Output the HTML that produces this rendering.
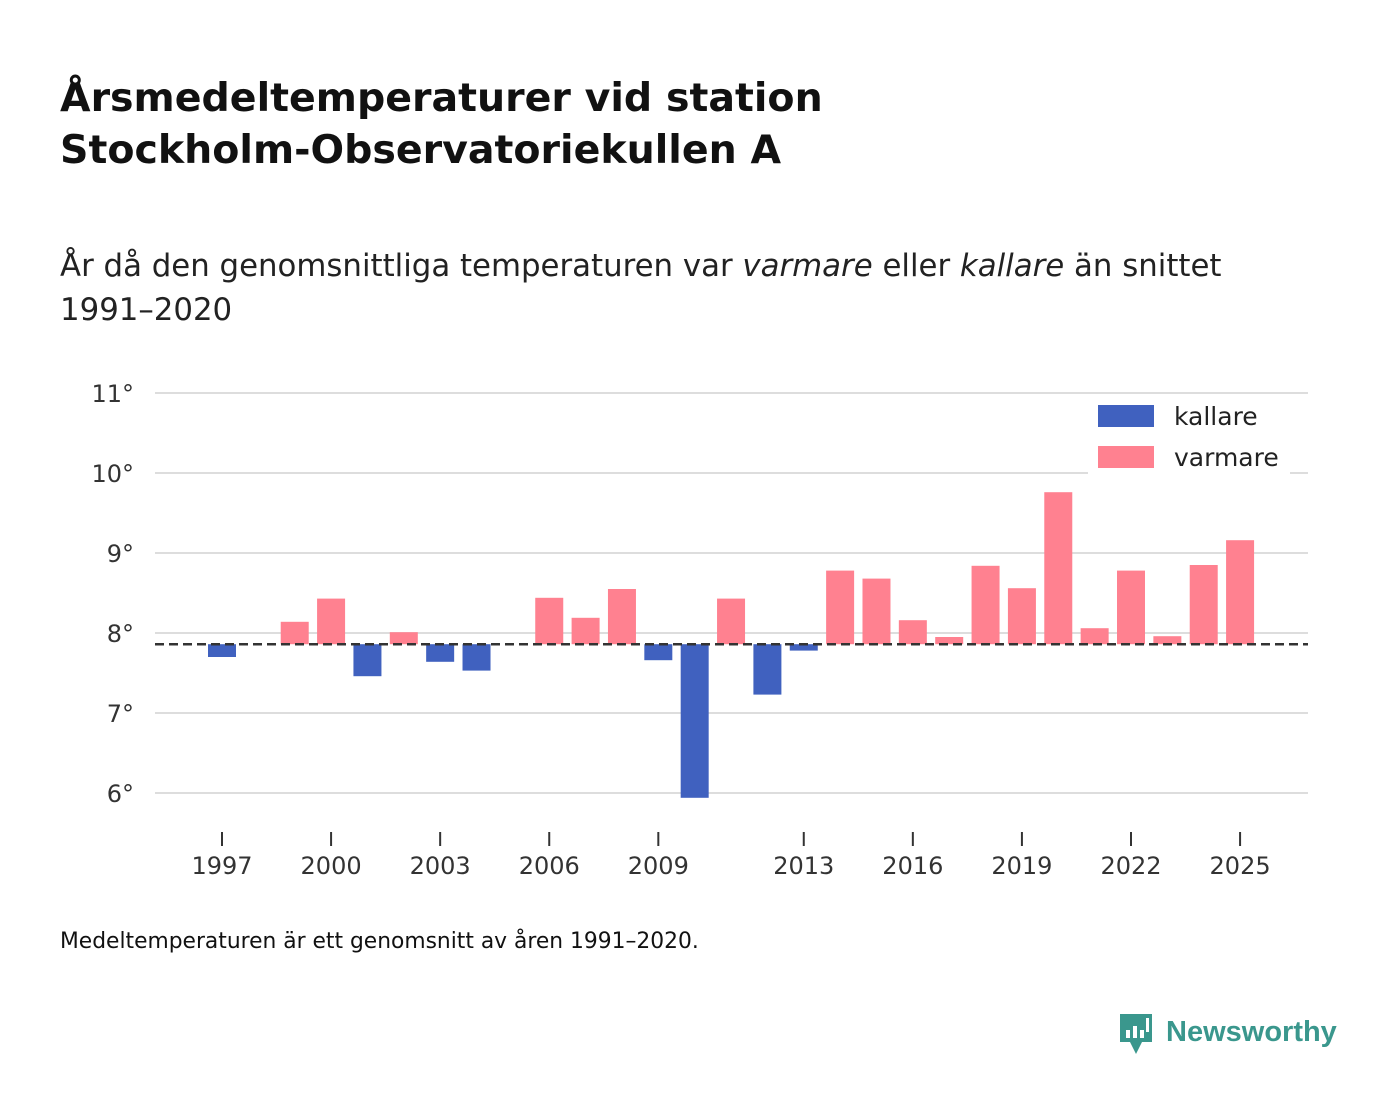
<!DOCTYPE html>
<html><head><meta charset="utf-8">
<style>
body{margin:0;background:#fff;font-family:"DejaVu Sans","Liberation Sans",sans-serif;}
#wrap{position:relative;width:1400px;height:1116px;overflow:hidden;}
h1{position:absolute;left:60px;top:72px;margin:0;font-size:39.5px;line-height:52px;font-weight:bold;color:#111;}
.sub{position:absolute;left:60px;top:244px;font-size:30.8px;line-height:44px;color:#222;}
.foot{position:absolute;left:60px;top:929px;font-size:21.8px;color:#111;}
svg{position:absolute;left:0;top:0;}
</style></head><body>
<div id="wrap">
<h1>Årsmedeltemperaturer vid station<br>Stockholm-Observatoriekullen A</h1>
<div class="sub">År då den genomsnittliga temperaturen var <i>varmare</i> eller <i>kallare</i> än snittet<br>1991–2020</div>
<svg id="chart" width="1400" height="1116"></svg>
<div class="foot">Medeltemperaturen är ett genomsnitt av åren 1991–2020.</div>
</div>
<script>
const years=[1997,1999,2000,2001,2002,2003,2004,2006,2007,2008,2009,2010,2011,2012,2013,2014,2015,2016,2017,2018,2019,2020,2021,2022,2023,2024,2025];
const temps=[7.70,8.14,8.43,7.46,8.01,7.64,7.53,8.44,8.19,8.55,7.66,5.94,8.43,7.23,7.78,8.78,8.68,8.16,7.95,8.84,8.56,9.76,8.06,8.78,7.96,8.85,9.16];
const baseline=7.86;
const yTicks=[6,7,8,9,10,11];
const xTicks=[1997,2000,2003,2006,2009,2013,2016,2019,2022,2025];
const NS='http://www.w3.org/2000/svg';
const svg=document.getElementById('chart');
const X=y=>222+(y-1997)*36.36;
const Y=v=>393+(11-v)*80;
function mk(t,a,p){const e=document.createElementNS(NS,t);for(const k in a)e.setAttribute(k,a[k]);(p||svg).appendChild(e);return e;}
yTicks.forEach(v=>{
 const l=mk('line',{x1:155,x2:1308,y1:Y(v),y2:Y(v),stroke:'#ddd','stroke-width':2});
 
 
 const t=mk('text',{x:134,y:Y(v)+9,'text-anchor':'end','font-size':24,fill:'#333','font-family':'DejaVu Sans, Liberation Sans, sans-serif'});
 t.textContent=v+'°';
 
 
});
xTicks.forEach(y=>{
 const l=mk('line',{x1:X(y),x2:X(y),y1:832,y2:846,stroke:'#333','stroke-width':2});
 
 
 const t=mk('text',{x:X(y),y:874,'text-anchor':'middle','font-size':24,fill:'#333','font-family':'DejaVu Sans, Liberation Sans, sans-serif'});
 t.textContent=y;
 
 
});
years.forEach((y,i)=>{
 const v=temps[i];const warm=v>=baseline;
 const y0=Y(Math.max(v,baseline)),y1=Y(Math.min(v,baseline));
 const r=mk('rect',{x:X(y)-14,y:y0,width:28,height:y1-y0,fill:warm?'#ff8190':'#4061bf'});
 
 
});
const bl=mk('line',{x1:155,x2:1308,y1:Y(baseline),y2:Y(baseline),stroke:'#333','stroke-width':2.5,'stroke-dasharray':'9,5'});


const lg=mk('g',{});


mk('rect',{x:1088,y:394,width:202,height:80,fill:'#fff'},lg);
[['kallare','#4061bf',405],['varmare','#ff8190',446]].forEach(([n,c,yy])=>{
 const r=mk('rect',{x:1098,y:yy,width:56,height:22,fill:c},lg);
 
 
 const t=mk('text',{x:1174,y:yy+20,'font-size':25,fill:'#222','font-family':'DejaVu Sans, Liberation Sans, sans-serif'},lg);
 t.textContent=n;
 
 
});
const logo=mk('g',{});


mk('path',{d:'M1120 1014 h32 v28 h-10 l-6 12 l-6 -12 h-10 z',fill:'#3a978d'},logo);
mk('rect',{x:1126,y:1030,width:4,height:8,fill:'#fff'},logo);
mk('rect',{x:1133,y:1026,width:4,height:12,fill:'#fff'},logo);
mk('rect',{x:1140,y:1030,width:4,height:8,fill:'#fff'},logo);
mk('rect',{x:1146,y:1018,width:3,height:14,fill:'#fff'},logo);
const lt=mk('text',{x:1166,y:1041,'font-size':29,'font-weight':'bold',fill:'#3a978d','font-family':'Liberation Sans, sans-serif'},logo);
lt.textContent='Newsworthy';
</script>
</body></html>
